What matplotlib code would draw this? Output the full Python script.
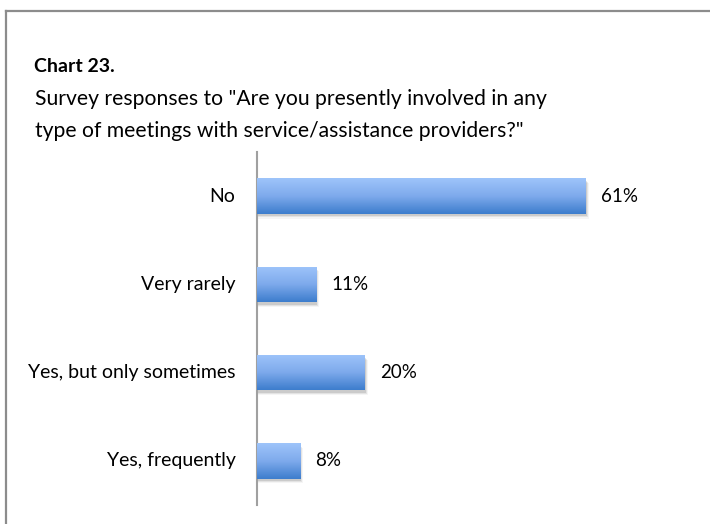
import numpy as np
import matplotlib.pyplot as plt
from matplotlib.patches import Rectangle
from matplotlib.colors import LinearSegmentedColormap

plt.rcParams['font.family'] = ['Lato', 'DejaVu Sans']

# Survey data (top to bottom)
categories = ["No", "Very rarely", "Yes, but only sometimes", "Yes, frequently"]
values = [61, 11, 20, 8]

W, H = 710, 524
fig = plt.figure(figsize=(W / 100, H / 100), dpi=100)

# Frame line along the top and left
fig.add_artist(plt.Line2D([6 / W, 6 / W], [0, 1 - 11 / H], color='#8c8c8c', lw=1.6))
fig.add_artist(plt.Line2D([6 / W, 1], [1 - 11 / H, 1 - 11 / H], color='#8c8c8c', lw=1.6))

fig.text(34 / W, 1 - 72 / H, "Chart 23.", fontsize=14, fontweight='bold', ha='left', va='baseline')
fig.text(35 / W, 1 - 105 / H, 'Survey responses to "Are you presently involved in any',
         fontsize=15.2, ha='left', va='baseline')
fig.text(35 / W, 1 - 137 / H, 'type of meetings with service/assistance providers?"',
         fontsize=15.2, ha='left', va='baseline')

xmax = 70
ax = fig.add_axes([257 / W, 19 / H, xmax * 5.39 / W, 353 / H])

blues = LinearSegmentedColormap.from_list('bars', ['#9ec4fa', '#7eaaec', '#3d7dcd'])
grad = np.linspace(0, 1, 100).reshape(-1, 1)
bh = 0.4

for i, (cat, v) in enumerate(zip(categories, values)):
    # soft drop shadow
    for k, a in enumerate([0.10, 0.07, 0.04]):
        off = 0.15 + 0.18 * k
        ax.add_patch(Rectangle((0, i - bh / 2 + 0.03 + 0.012 * k), v + off, bh,
                               facecolor='black', alpha=a, lw=0, zorder=1))
    bar = ax.barh(i, v, height=bh, color='none', zorder=2)[0]
    im = ax.imshow(grad, cmap=blues, aspect='auto', zorder=3,
                   extent=(0, v, i + bh / 2, i - bh / 2), interpolation='bicubic')
    im.set_clip_path(bar)
    ax.text(v + 2.8, i, f"{v}%", fontsize=13.5, ha='left', va='center')
    ax.text(-4.0, i, cat, fontsize=14, ha='right', va='center')

ax.set_xlim(0, xmax)
ax.set_ylim(len(categories) - 0.5, -0.5)
for s in ['top', 'right', 'bottom']:
    ax.spines[s].set_visible(False)
ax.spines['left'].set_color('#a0a0a0')
ax.spines['left'].set_linewidth(1.5)
ax.set_xticks([])
ax.set_yticks([])
ax.patch.set_alpha(0)

fig.savefig('out.png', dpi=100)
